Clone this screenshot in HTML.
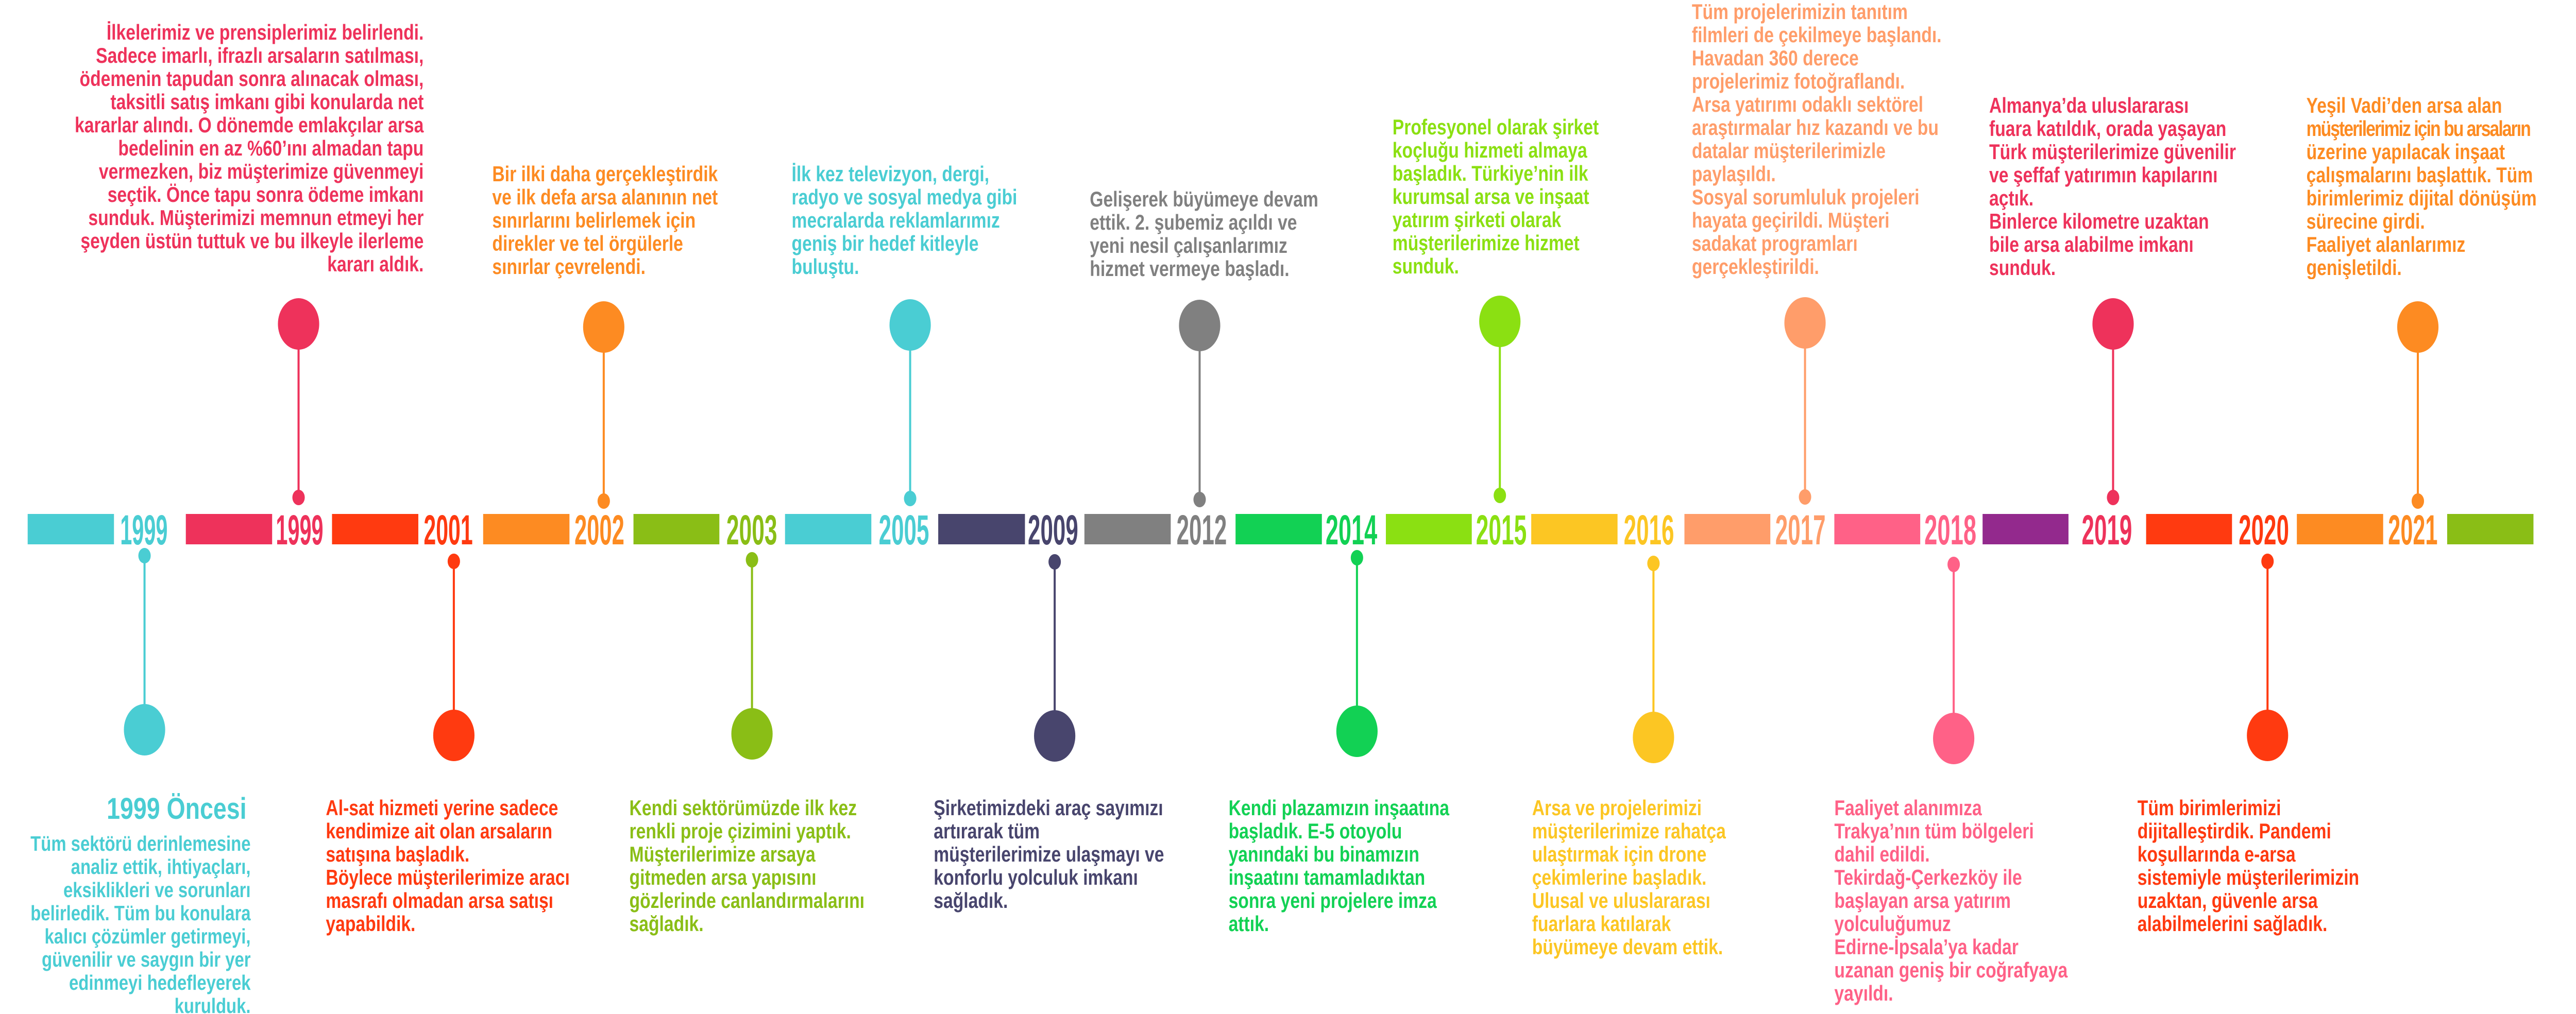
<!DOCTYPE html>
<html>
<head>
<meta charset="utf-8">
<style>
html,body{margin:0;padding:0;background:#fff;width:100%;height:100%;overflow:hidden;}
body{font-family:"Liberation Sans",sans-serif;}
#root{position:absolute;left:0;top:0;width:6238px;height:1969px;overflow:hidden;transform-origin:0 0;background:#fff;}
svg{position:absolute;left:0;top:0;}
.t{position:absolute;font-weight:bold;font-size:42px;line-height:45px;white-space:nowrap;}
.r{text-align:right;}
.sq{letter-spacing:-2.4px;}
</style>
</head>
<body>
<div id="root">
<svg width="6238" height="1969" viewBox="0 0 6238 1969" xmlns="http://www.w3.org/2000/svg">
<g>
<rect x="67" y="998" width="209" height="59" fill="#4ACDD3"/>
<rect x="450" y="998" width="209" height="59" fill="#EE325B"/>
<rect x="804" y="998" width="209" height="59" fill="#FF3A10"/>
<rect x="1170" y="998" width="209" height="59" fill="#FD8B22"/>
<rect x="1534" y="998" width="208" height="59" fill="#8ABE16"/>
<rect x="1901" y="998" width="209" height="59" fill="#4ACDD3"/>
<rect x="2272" y="998" width="210" height="59" fill="#48456D"/>
<rect x="2626" y="998" width="209" height="59" fill="#808080"/>
<rect x="2992" y="998" width="209" height="59" fill="#12D154"/>
<rect x="3356" y="998" width="208" height="59" fill="#8BE012"/>
<rect x="3708" y="998" width="209" height="59" fill="#FCC623"/>
<rect x="4079" y="998" width="208" height="59" fill="#FF9D6A"/>
<rect x="4442" y="998" width="208" height="59" fill="#FF6187"/>
<rect x="4801" y="998" width="208" height="59" fill="#93298D"/>
<rect x="5197" y="998" width="208" height="59" fill="#FF3A10"/>
<rect x="5562" y="998" width="209" height="59" fill="#FD8B22"/>
<rect x="5926" y="998" width="209" height="59" fill="#8ABE16"/>
</g>
<g font-family="Liberation Sans Narrow, Liberation Sans, sans-serif" font-weight="bold" font-size="82">
<text x="291" y="1057" textLength="115" lengthAdjust="spacingAndGlyphs" fill="#4ACDD3">1999</text>
<text x="668" y="1057" textLength="115" lengthAdjust="spacingAndGlyphs" fill="#EE325B">1999</text>
<text x="1026" y="1057" textLength="119" lengthAdjust="spacingAndGlyphs" fill="#FF3A10">2001</text>
<text x="1391" y="1057" textLength="121" lengthAdjust="spacingAndGlyphs" fill="#FD8B22">2002</text>
<text x="1759" y="1057" textLength="123" lengthAdjust="spacingAndGlyphs" fill="#8ABE16">2003</text>
<text x="2128" y="1057" textLength="122" lengthAdjust="spacingAndGlyphs" fill="#4ACDD3">2005</text>
<text x="2489" y="1057" textLength="122" lengthAdjust="spacingAndGlyphs" fill="#48456D">2009</text>
<text x="2849" y="1057" textLength="122" lengthAdjust="spacingAndGlyphs" fill="#808080">2012</text>
<text x="3210" y="1057" textLength="125" lengthAdjust="spacingAndGlyphs" fill="#12D154">2014</text>
<text x="3574" y="1057" textLength="123" lengthAdjust="spacingAndGlyphs" fill="#8BE012">2015</text>
<text x="3932" y="1057" textLength="122" lengthAdjust="spacingAndGlyphs" fill="#FCC623">2016</text>
<text x="4299" y="1057" textLength="122" lengthAdjust="spacingAndGlyphs" fill="#FF9D6A">2017</text>
<text x="4660" y="1057" textLength="126" lengthAdjust="spacingAndGlyphs" fill="#FF6187">2018</text>
<text x="5041" y="1057" textLength="122" lengthAdjust="spacingAndGlyphs" fill="#EE325B">2019</text>
<text x="5421" y="1057" textLength="122" lengthAdjust="spacingAndGlyphs" fill="#FF3A10">2020</text>
<text x="5783" y="1057" textLength="120" lengthAdjust="spacingAndGlyphs" fill="#FD8B22">2021</text>
</g>
<g stroke-width="5">
<line x1="723" y1="629" x2="723" y2="966" stroke="#EE325B"/><circle cx="723" cy="629" r="50" fill="#EE325B"/><circle cx="723" cy="966" r="15" fill="#EE325B"/>
<line x1="1462" y1="635" x2="1462" y2="973" stroke="#FD8B22"/><circle cx="1462" cy="635" r="50" fill="#FD8B22"/><circle cx="1462" cy="973" r="15" fill="#FD8B22"/>
<line x1="2204" y1="631" x2="2204" y2="968" stroke="#4ACDD3"/><circle cx="2204" cy="631" r="50" fill="#4ACDD3"/><circle cx="2204" cy="968" r="15" fill="#4ACDD3"/>
<line x1="2905" y1="632" x2="2905" y2="970" stroke="#808080"/><circle cx="2905" cy="632" r="50" fill="#808080"/><circle cx="2905" cy="970" r="15" fill="#808080"/>
<line x1="3632" y1="624" x2="3632" y2="962" stroke="#8BE012"/><circle cx="3632" cy="624" r="50" fill="#8BE012"/><circle cx="3632" cy="962" r="15" fill="#8BE012"/>
<line x1="4371" y1="627" x2="4371" y2="965" stroke="#FF9D6A"/><circle cx="4371" cy="627" r="50" fill="#FF9D6A"/><circle cx="4371" cy="965" r="15" fill="#FF9D6A"/>
<line x1="5117" y1="629" x2="5117" y2="966" stroke="#EE325B"/><circle cx="5117" cy="629" r="50" fill="#EE325B"/><circle cx="5117" cy="966" r="15" fill="#EE325B"/>
<line x1="5855" y1="635" x2="5855" y2="973" stroke="#FD8B22"/><circle cx="5855" cy="635" r="50" fill="#FD8B22"/><circle cx="5855" cy="973" r="15" fill="#FD8B22"/>
<line x1="350" y1="1079" x2="350" y2="1417" stroke="#4ACDD3"/><circle cx="350" cy="1417" r="50" fill="#4ACDD3"/><circle cx="350" cy="1079" r="15" fill="#4ACDD3"/>
<line x1="1099" y1="1090" x2="1099" y2="1428" stroke="#FF3A10"/><circle cx="1099" cy="1428" r="50" fill="#FF3A10"/><circle cx="1099" cy="1090" r="15" fill="#FF3A10"/>
<line x1="1821" y1="1087" x2="1821" y2="1425" stroke="#8ABE16"/><circle cx="1821" cy="1425" r="50" fill="#8ABE16"/><circle cx="1821" cy="1087" r="15" fill="#8ABE16"/>
<line x1="2554" y1="1091" x2="2554" y2="1429" stroke="#48456D"/><circle cx="2554" cy="1429" r="50" fill="#48456D"/><circle cx="2554" cy="1091" r="15" fill="#48456D"/>
<line x1="3286" y1="1083" x2="3286" y2="1420" stroke="#12D154"/><circle cx="3286" cy="1420" r="50" fill="#12D154"/><circle cx="3286" cy="1083" r="15" fill="#12D154"/>
<line x1="4004" y1="1094" x2="4004" y2="1432" stroke="#FCC623"/><circle cx="4004" cy="1432" r="50" fill="#FCC623"/><circle cx="4004" cy="1094" r="15" fill="#FCC623"/>
<line x1="4731" y1="1096" x2="4731" y2="1434" stroke="#FF6187"/><circle cx="4731" cy="1434" r="50" fill="#FF6187"/><circle cx="4731" cy="1096" r="15" fill="#FF6187"/>
<line x1="5491" y1="1090" x2="5491" y2="1428" stroke="#FF3A10"/><circle cx="5491" cy="1428" r="50" fill="#FF3A10"/><circle cx="5491" cy="1090" r="15" fill="#FF3A10"/>
</g>
</svg>

<div class="t r" style="right:5212px;top:40px;color:#EE325B;">İlkelerimiz ve prensiplerimiz belirlendi.<br>Sadece imarlı, ifrazlı arsaların satılması,<br>ödemenin tapudan sonra alınacak olması,<br>taksitli satış imkanı gibi konularda net<br>kararlar alındı. O dönemde emlakçılar arsa<br>bedelinin en az %60’ını almadan tapu<br>vermezken, biz müşterimize güvenmeyi<br>seçtik. Önce tapu sonra ödeme imkanı<br>sunduk. Müşterimizi memnun etmeyi her<br>şeyden üstün tuttuk ve bu ilkeyle ilerleme<br>kararı aldık.</div>

<div class="t" style="left:1192px;top:315px;color:#FD8B22;">Bir ilki daha gerçekleştirdik<br>ve ilk defa arsa alanının net<br>sınırlarını belirlemek için<br>direkler ve tel örgülerle<br>sınırlar çevrelendi.</div>

<div class="t" style="left:1917px;top:315px;color:#4ACDD3;">İlk kez televizyon, dergi,<br>radyo ve sosyal medya gibi<br>mecralarda reklamlarımız<br>geniş bir hedef kitleyle<br>buluştu.</div>

<div class="t" style="left:2639px;top:364px;color:#808080;">Gelişerek büyümeye devam<br>ettik. 2. şubemiz açıldı ve<br>yeni nesil çalışanlarımız<br>hizmet vermeye başladı.</div>

<div class="t" style="left:3372px;top:224px;color:#8BE012;">Profesyonel olarak şirket<br>koçluğu hizmeti almaya<br>başladık. Türkiye’nin ilk<br>kurumsal arsa ve inşaat<br>yatırım şirketi olarak<br>müşterilerimize hizmet<br>sunduk.</div>

<div class="t" style="left:4097px;top:0px;color:#FF9D6A;">Tüm projelerimizin tanıtım<br>filmleri de çekilmeye başlandı.<br>Havadan 360 derece<br>projelerimiz fotoğraflandı.<br>Arsa yatırımı odaklı sektörel<br>araştırmalar hız kazandı ve bu<br>datalar müşterilerimizle<br>paylaşıldı.<br>Sosyal sorumluluk projeleri<br>hayata geçirildi. Müşteri<br>sadakat programları<br>gerçekleştirildi.</div>

<div class="t" style="left:4817px;top:182px;color:#EE325B;">Almanya’da uluslararası<br>fuara katıldık, orada yaşayan<br>Türk müşterilerimize güvenilir<br>ve şeffaf yatırımın kapılarını<br>açtık.<br>Binlerce kilometre uzaktan<br>bile arsa alabilme imkanı<br>sunduk.</div>

<div class="t" style="left:5585px;top:182px;width:640px;overflow:hidden;color:#FD8B22;">Yeşil Vadi’den arsa alan<br><span class="sq">müşterilerimiz için bu arsaların</span><br>üzerine yapılacak inşaat<br>çalışmalarını başlattık. Tüm<br>birimlerimiz dijital dönüşüm<br>sürecine girdi.<br>Faaliyet alanlarımız<br>genişletildi.</div>

<div class="t r" style="right:5641px;top:1542px;color:#4ACDD3;font-size:58px;line-height:58px;">1999 Öncesi</div>
<div class="t r" style="right:5631px;top:1616px;color:#4ACDD3;font-size:41px;">Tüm sektörü derinlemesine<br>analiz ettik, ihtiyaçları,<br>eksiklikleri ve sorunları<br>belirledik. Tüm bu konulara<br>kalıcı çözümler getirmeyi,<br>güvenilir ve saygın bir yer<br>edinmeyi hedefleyerek<br>kurulduk.</div>

<div class="t" style="left:789px;top:1546px;color:#FF3A10;">Al-sat hizmeti yerine sadece<br>kendimize ait olan arsaların<br>satışına başladık.<br>Böylece müşterilerimize aracı<br>masrafı olmadan arsa satışı<br>yapabildik.</div>

<div class="t" style="left:1524px;top:1546px;color:#8ABE16;">Kendi sektörümüzde ilk kez<br>renkli proje çizimini yaptık.<br>Müşterilerimize arsaya<br>gitmeden arsa yapısını<br>gözlerinde canlandırmalarını<br>sağladık.</div>

<div class="t" style="left:2261px;top:1546px;color:#48456D;">Şirketimizdeki araç sayımızı<br>artırarak tüm<br>müşterilerimize ulaşmayı ve<br>konforlu yolculuk imkanı<br>sağladık.</div>

<div class="t" style="left:2975px;top:1546px;color:#12D154;">Kendi plazamızın inşaatına<br>başladık. E-5 otoyolu<br>yanındaki bu binamızın<br>inşaatını tamamladıktan<br>sonra yeni projelere imza<br>attık.</div>

<div class="t" style="left:3710px;top:1546px;color:#FCC623;">Arsa ve projelerimizi<br>müşterilerimize rahatça<br>ulaştırmak için drone<br>çekimlerine başladık.<br>Ulusal ve uluslararası<br>fuarlara katılarak<br>büyümeye devam ettik.</div>

<div class="t" style="left:4442px;top:1546px;color:#FF6187;">Faaliyet alanımıza<br>Trakya’nın tüm bölgeleri<br>dahil edildi.<br>Tekirdağ-Çerkezköy ile<br>başlayan arsa yatırım<br>yolculuğumuz<br>Edirne-İpsala’ya kadar<br>uzanan geniş bir coğrafyaya<br>yayıldı.</div>

<div class="t" style="left:5176px;top:1546px;color:#FF3A10;">Tüm birimlerimizi<br>dijitalleştirdik. Pandemi<br>koşullarında e-arsa<br>sistemiyle müşterilerimizin<br>uzaktan, güvenle arsa<br>alabilmelerini sağladık.</div>
</div>
<script>
(function(){
  function fit(){
    var w = window.innerWidth || document.documentElement.clientWidth || 6238;
    var h = window.innerHeight || document.documentElement.clientHeight || 1969;
    var sx = w/6238, sy = h/1969;
    var r = document.getElementById('root');
    if (Math.abs(sx-1) < 0.001 && Math.abs(sy-1) < 0.001) { r.style.transform = ''; }
    else { r.style.transform = 'scale(' + sx + ',' + sy + ')'; }
  }
  fit();
  window.addEventListener('resize', fit);
})();
</script>
</body>
</html>
